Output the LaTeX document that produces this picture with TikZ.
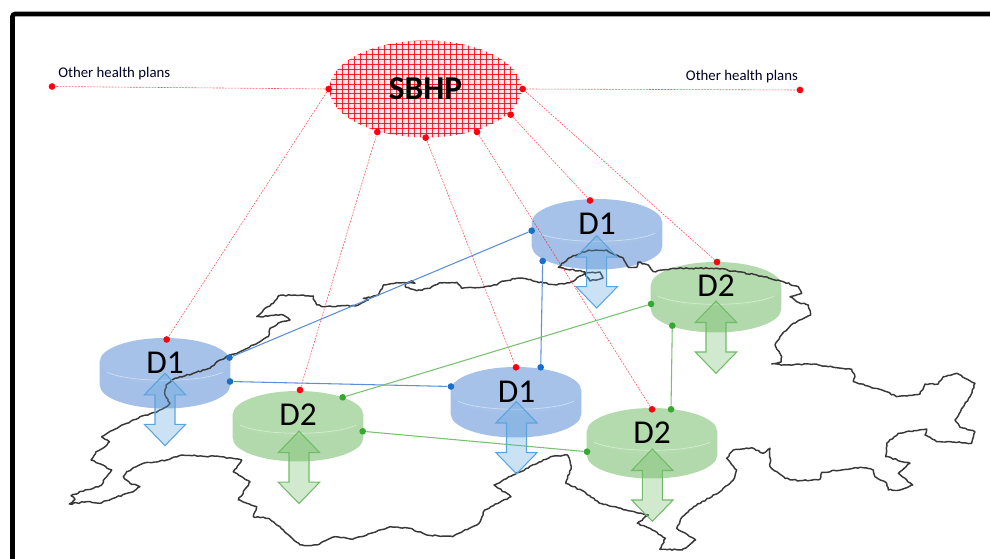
\documentclass[tikz,border=0pt]{standalone}
\usepackage{fontspec}
\setmainfont{Carlito}
\usetikzlibrary{shapes.geometric,decorations.pathmorphing}
\definecolor{rd}{HTML}{FF0010}
\definecolor{bdot}{HTML}{1C6FC8}
\definecolor{bline}{HTML}{5C8FD8}
\definecolor{gdot}{HTML}{36A832}
\definecolor{gline}{HTML}{79C070}
\definecolor{bdisc}{HTML}{A7C2E9}
\definecolor{bside}{HTML}{A5C0E8}
\definecolor{gdisc}{HTML}{B4DBAE}
\definecolor{gside}{HTML}{B2D9AB}
\definecolor{barrow}{HTML}{5AA5DE}
\definecolor{garrow}{HTML}{70BC66}
\tikzset{
  rdot/.style={circle,fill=rd,inner sep=0pt,minimum size=5pt},
  bluedot/.style={circle,fill=bdot,inner sep=0pt,minimum size=5pt},
  greendot/.style={circle,fill=gdot,inner sep=0pt,minimum size=5pt},
  redlink/.style={draw=rd,line width=0.45pt,dash pattern=on 1.4pt off 0.9pt,opacity=.65},
  bluelink/.style={draw=bline,line width=0.8pt},
  greenlink/.style={draw=gline,line width=0.8pt},
  disclabel/.style={font=\fontsize{25}{25}\selectfont,inner sep=0pt},
  smalllabel/.style={font=\fontsize{11.1}{13}\selectfont,inner sep=0pt,text=black!85!blue},
  mapline/.style={draw=black!78,line width=1.1pt,line join=round,
    decorate,decoration={random steps,segment length=1.9pt,amplitude=0.5pt}},
}
% cx, top y, fill, side fill
\newcommand{\cyldisc}[4]{%
  \fill[#4] (#1-65.3,#2+23.5) -- (#1-65.3,#2+47) arc[start angle=180,end angle=360,x radius=65.3,y radius=-23.5] -- (#1+65.3,#2+23.5) -- cycle;
  \fill[#3] (#1,#2+23.5) ellipse[x radius=65.3,y radius=23.5];
  \draw[white,opacity=.5,line width=.45pt] (#1-58,#2+34.2) .. controls (#1-35,#2+45) and (#1+35,#2+45) .. (#1+58,#2+34.2);
}
% cx, top tip y, edge colour, fill colour
\newcommand{\updown}[4]{%
  \filldraw[draw=#3,fill=#4,fill opacity=.32,line width=.8pt,line join=miter]
    (#1,#2) -- (#1+20.7,#2+21.5) -- (#1+10,#2+21.5) -- (#1+10,#2+51) -- (#1+20.7,#2+51)
    -- (#1,#2+72.3) -- (#1-20.7,#2+51) -- (#1-10,#2+51) -- (#1-10,#2+21.5) -- (#1-20.7,#2+21.5) -- cycle;
}
\begin{document}
\begin{tikzpicture}[x=0.75pt,y=-0.75pt]
\useasboundingbox (0,0) rectangle (990,559);
% frame
\draw[black,line width=3.5pt,rounded corners=2pt] (12.5,559) -- (12.5,14) -- (990,14);

% discs
\cyldisc{165}{338}{bdisc}{bside}
\cyldisc{298}{391}{gdisc}{gside}
\cyldisc{516}{367}{bdisc}{bside}
\cyldisc{652}{408}{gdisc}{gside}
\cyldisc{597}{199}{bdisc}{bside}
\cyldisc{716}{262}{gdisc}{gside}

% map outline
\draw[mapline] (69.3,504) -- (75,499.3) -- (71,495.7) -- (85,490) -- (93.3,488.3) -- (101.7,485) -- (105,478.3) -- (111.7,470) -- (98.3,463.3) -- (91,460) -- (96,451.7) -- (105,446.7) -- (109.3,441.7) -- (101.7,436.7) -- (113.3,430) -- (126.7,423.3) -- (140,416.7) -- (155,412.7) -- (166.7,406.7) -- (170,403.3) -- (165,395) -- (166,385) -- (175,378.3) -- (193.3,373.3) -- (210,368.3) -- (220,360) -- (230,355) -- (240,351.7) -- (253.3,345) -- (268.3,336.7) -- (270,328.3) -- (281.7,321.7) -- (290,320) -- (283.3,315) -- (256.7,316.7) -- (263.3,310) -- (273.3,303.3) -- (278.3,296) -- (293.3,295) -- (313.3,296) -- (314,300) -- (316.7,305) -- (325,306.7) -- (340,306) -- (355,306) -- (368.3,300) -- (363.3,298.3) -- (378.3,295) -- (383.3,285) -- (396.7,282.7) -- (406.7,283.3) -- (415,283.3) -- (411.7,280.7) -- (405.7,283.3) -- (405.7,287.3) -- (416.7,290.7) -- (430,288.3) -- (440,282.7) -- (456.7,282.3) -- (461.7,288.3) -- (483.3,287.3) -- (496.7,285) -- (500,282.3) -- (516.7,278.3) -- (523.3,278.3) -- (536.7,281.7) -- (556.7,285) -- (571.7,281.7) -- (585,273.3) -- (600,272) -- (603,278) -- (590,281) -- (586,276) -- (585,272) -- (558.3,267.3) -- (568.3,258.3) -- (588.3,250) -- (606.7,250) -- (615,255) -- (623.3,258.3) -- (628.3,267.3) -- (636.7,267.3) -- (638,262) -- (648.3,265) -- (653.3,271.7) -- (673.3,268.3) -- (716.7,268.3) -- (756.7,275) -- (783.3,281.7) -- (798.3,286.7) -- (801.7,293.3) -- (790,296.7) -- (796.7,301.7) -- (808.3,305) -- (810.7,315) -- (793.3,323.3) -- (780,336.7) -- (775,345) -- (781.7,356.7) -- (781,362) -- (771.7,364) -- (786.7,365) -- (813.3,364) -- (833.3,367.3) -- (851.7,369.3) -- (855,376.7) -- (853.3,381.7) -- (870,386.7) -- (886.7,391.7) -- (896.7,396.7) -- (920,394) -- (925,384) -- (938.3,384) -- (943.3,376.7) -- (956.7,373.3) -- (975,383.3) -- (970,396.7) -- (963.3,406.7) -- (955,420) -- (960,427.3) -- (975,431.7) -- (971.7,443.3) -- (950,441.7) -- (936.7,441.7) -- (925,435) -- (926.7,429) -- (898.3,433.3) -- (886.7,443.3) -- (885.7,456.7) -- (910,463.3) -- (898.3,473.3) -- (912.7,485) -- (900,490) -- (888.3,490) -- (886.7,483.3) -- (875,476.7) -- (873.3,470) -- (860,467.3) -- (841.7,470) -- (821.7,472.3) -- (820,479.3) -- (800,480.7) -- (785,478.3) -- (770,466.7) -- (770,448.3) -- (763.3,453.3) -- (751.7,447.7) -- (733.3,450) -- (726.7,458.3) -- (736.7,470) -- (733.3,480) -- (720,491.7) -- (693.7,506.7) -- (682.4,516.7) -- (676.7,528.3) -- (695.6,540) -- (682.4,550) -- (659.8,549.3) -- (665.4,538.3) -- (652.3,530) -- (637.2,523.3) -- (648.5,515) -- (625.9,510) -- (599.5,503.3) -- (584.5,491.7) -- (565.7,483.3) -- (571.3,466.7) -- (567.5,455) -- (550.6,456.7) -- (537.4,463.3) -- (513,475) -- (494.1,485) -- (511,496.7) -- (484.7,510) -- (479,523.3) -- (452.7,536.7) -- (426.7,535) -- (410,528.3) -- (390,526.7) -- (366.7,535) -- (353.3,539) -- (335,536.7) -- (316.7,545) -- (300,545) -- (283.3,530) -- (268.3,518.3) -- (253.3,516.7) -- (256.7,506.7) -- (238.3,500) -- (250,481.7) -- (233.3,471.7) -- (241.7,460) -- (220,456.7) -- (181.7,455) -- (166.7,460) -- (143.3,463.3) -- (126.7,471.7) -- (123.3,476.7) -- (130,483.3) -- (140,486.7) -- (133.3,491.7) -- (113.3,498.3) -- (100,503.3) -- (86.7,501.7) -- cycle;

% SBHP hatched ellipse
\fill[rd!10] (425.5,89) ellipse[x radius=96,y radius=48.5];
\begin{scope}
  \clip (425.5,89) ellipse[x radius=96,y radius=48.5];
  \foreach \i in {0,...,32} {\draw[rd,line width=.75pt,opacity=.85] ({330+6*\i},38) -- ({330+6*\i},140);}
  \foreach \i in {0,...,21} {\draw[rd,line width=.7pt,opacity=.85] (328,{40+4.9*\i}) -- (524,{40+4.9*\i});}
\end{scope}
\node[ellipse,minimum width=144pt,minimum height=72.75pt,inner sep=0pt,font=\fontsize{25}{25}\selectfont\bfseries] (sbhp) at (425.5,89) {SBHP};

% dots
\node[rdot] (sL) at (328.7,89) {};
\node[rdot] (sR) at (522.7,89) {};
\node[rdot] (sa) at (377.3,132) {};
\node[rdot] (sb) at (425.7,137.7) {};
\node[rdot] (sc) at (477,132) {};
\node[rdot] (sd) at (510.7,114.7) {};
\node[rdot] (oL) at (52,86.5) {};
\node[rdot] (oR) at (800,90) {};
\node[rdot] (ra) at (166.7,339.5) {};
\node[rdot] (rb) at (300,390) {};
\node[rdot] (rc) at (516,367.3) {};
\node[rdot] (rd1) at (652,409.3) {};
\node[rdot] (re) at (590,200.5) {};
\node[rdot] (rf) at (717,262) {};
\node[bluedot] (b1) at (229.5,357.6) {};
\node[bluedot] (b2) at (531.7,230.7) {};
\node[bluedot] (b3) at (230,381.5) {};
\node[bluedot] (b4) at (451,386.5) {};
\node[bluedot] (b5) at (542.7,261) {};
\node[bluedot] (b6) at (540.7,367.3) {};
\node[greendot] (g1) at (342.7,397.3) {};
\node[greendot] (g2) at (651,304) {};
\node[greendot] (g3) at (362.7,431.3) {};
\node[greendot] (g4) at (587,451.7) {};
\node[greendot] (g5) at (672.3,325.7) {};
\node[greendot] (g6) at (671,409.3) {};

% connectors
\path[redlink] (sL) -- (oL);
\path[redlink] (sR) -- (oR);
\path[redlink] (sL) -- (ra);
\path[redlink] (sa) -- (rb);
\path[redlink] (sb) -- (rc);
\path[redlink] (sc) -- (rd1);
\path[redlink] (sd) -- (re);
\path[redlink] (sR) -- (rf);
\path[bluelink] (b1) -- (b2);
\path[bluelink] (b3) -- (b4);
\path[bluelink] (b5) -- (b6);
\path[greenlink] (g1) -- (g2);
\path[greenlink] (g3) -- (g4);
\path[greenlink] (g5) -- (g6);

% up-down arrows
\updown{165}{373.3}{barrow}{barrow}
\updown{299}{431.2}{garrow}{garrow}
\updown{516.5}{401.5}{barrow}{barrow}
\updown{652.3}{449}{garrow}{garrow}
\updown{596.7}{235.7}{barrow}{barrow}
\updown{716}{301}{garrow}{garrow}

% labels
\node[disclabel] (la) at (165,362.5) {D1};
\node[disclabel] (lb) at (298,415) {D2};
\node[disclabel] (lc) at (516.5,391.5) {D1};
\node[disclabel] (ld) at (652,433) {D2};
\node[disclabel] (le) at (597,224) {D1};
\node[disclabel] (lf) at (716,286) {D2};
\node[smalllabel,anchor=west] (tL) at (58,74) {Other health plans};
\node[smalllabel,anchor=west] (tR) at (685.7,77) {Other health plans};
\end{tikzpicture}
\end{document}
